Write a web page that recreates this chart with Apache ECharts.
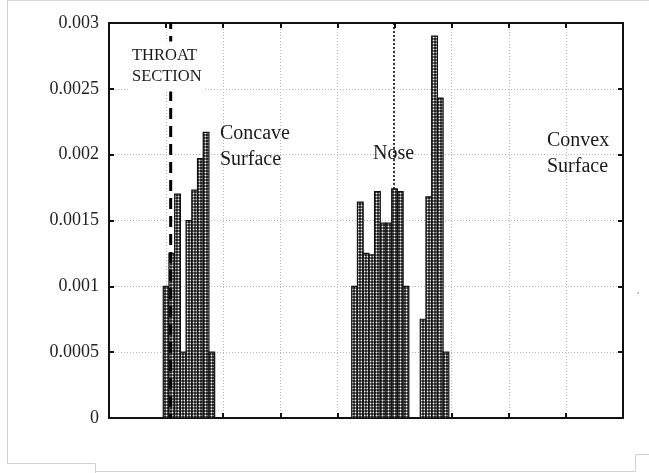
<!DOCTYPE html>
<html>
<head>
<meta charset="utf-8">
<script src="https://cdn.jsdelivr.net/npm/echarts@6/dist/echarts.min.js"></script>
<style>html,body{margin:0;padding:0;background:#fff}#c{width:649px;height:473px}</style>
</head>
<body>
<div id="c"></div>
<script>
// ---- data ----
const yTickLabels = ['0', '0.0005', '0.001', '0.0015', '0.002', '0.0025', '0.003'];
const concaveX = [1.0, 1.1, 1.2, 1.3, 1.4, 1.5, 1.6, 1.7, 1.8];
const concaveY = [0.001, 0.00125, 0.0017, 0.0005, 0.0015, 0.00173, 0.00197, 0.00217, 0.0005];
const noseX = [4.3, 4.4, 4.5, 4.6, 4.7, 4.8, 4.9, 5.0, 5.1, 5.2];
const noseY = [0.001, 0.00164, 0.00125, 0.00124, 0.00172, 0.00148, 0.00148, 0.00174, 0.00172, 0.001];
const convexX = [5.5, 5.6, 5.7, 5.8, 5.9];
const convexY = [0.00075, 0.00168, 0.0029, 0.00243, 0.0005];
const throatLineX = 1.08;
const noseLineX = 4.99;
const yMax = 0.003;
const xMax = 9;

// ---- styling ----
const BAR_W = 0.1;
const tile = document.createElement('canvas');
tile.width = 3; tile.height = 3;
const tctx = tile.getContext('2d');
tctx.fillStyle = '#262626'; tctx.fillRect(0, 0, 3, 3);
tctx.fillStyle = '#777777';
tctx.fillRect(1, 0, 1, 1); tctx.fillRect(0, 1, 1, 1); tctx.fillRect(2, 1, 1, 1); tctx.fillRect(1, 2, 1, 1);
tctx.fillStyle = '#f2f2f2'; tctx.fillRect(1, 1, 1, 1);
const pattern = { image: tile, repeat: 'repeat' };

function zipXY(xs, ys) { return xs.map((x, i) => [x, ys[i]]); }
function renderBar(params, api) {
  const x = api.value(0), y = api.value(1);
  const p0 = api.coord([x - BAR_W / 2, y]);
  const p1 = api.coord([x + BAR_W / 2, 0]);
  return {
    type: 'rect',
    shape: { x: p0[0], y: p0[1], width: p1[0] - p0[0], height: p1[1] - p0[1] },
    style: { fill: pattern, stroke: '#111', lineWidth: 1.2 }
  };
}
const barSeries = (xs, ys) => ({
  type: 'custom', renderItem: renderBar, data: zipXY(xs, ys),
  encode: { x: 0, y: 1 }, z: 3, xAxisIndex: 0, yAxisIndex: 0
});

const serif = '"Liberation Serif", "DejaVu Serif", serif';
const axisCommon = {
  axisLine: { show: true, onZero: false, lineStyle: { color: '#111', width: 2 } },
  axisTick: { show: true, inside: false, length: -5, lineStyle: { color: '#111', width: 2 } }
};

const chart = echarts.init(document.getElementById('c'));
chart.setOption({
  animation: false,
  backgroundColor: '#fff',
  grid: { left: 109, right: 26, top: 23, bottom: 55 },
  xAxis: [
    Object.assign({ type: 'value', min: 0, max: xMax, interval: 1, position: 'bottom',
      axisLabel: { show: false },
      splitLine: { show: true, lineStyle: { color: '#b8b8b8', type: [1, 2], width: 1 } } }, axisCommon),
    Object.assign({ type: 'value', min: 0, max: xMax, interval: 1, position: 'top',
      axisLabel: { show: false }, splitLine: { show: false } }, axisCommon)
  ],
  yAxis: [
    Object.assign({ type: 'value', min: 0, max: yMax, interval: 0.0005, position: 'left',
      axisLabel: { show: true, margin: 10, color: '#222', fontSize: 18, fontFamily: serif,
        formatter: v => yTickLabels[Math.round(v / 0.0005)] },
      splitLine: { show: true, lineStyle: { color: '#b8b8b8', type: [1, 2], width: 1 } } }, axisCommon),
    Object.assign({ type: 'value', min: 0, max: yMax, interval: 0.0005, position: 'right',
      axisLabel: { show: false }, splitLine: { show: false } }, axisCommon)
  ],
  series: [
    {
      type: 'line', data: [[noseLineX, yMax], [noseLineX, 0]], symbol: 'none', z: 1,
      lineStyle: { color: '#000', width: 1.5, type: [2, 2] }, silent: true
    },
    barSeries(concaveX, concaveY),
    barSeries(noseX, noseY),
    barSeries(convexX, convexY),
    {
      type: 'line', data: [[throatLineX, yMax], [throatLineX, 0]], symbol: 'none', z: 4,
      lineStyle: { color: '#000', width: 3, type: [11, 7], dashOffset: 5 }, silent: true
    }
  ],
  graphic: [
    { type: 'text', z: 100, style: { text: 'THROAT\nSECTION', x: 130, y: 66.5, verticalAlign: 'middle',
        font: '16.5px ' + serif, fill: '#1a1a1a', lineHeight: 21, backgroundColor: '#fff', padding: [4, 2] } },
    { type: 'text', z: 100, style: { text: 'Concave\nSurface', x: 220, y: 147, verticalAlign: 'middle',
        font: '20px ' + serif, fill: '#1a1a1a', lineHeight: 26 } },
    { type: 'text', z: 100, style: { text: 'Nose', x: 373, y: 154, verticalAlign: 'middle',
        font: '20px ' + serif, fill: '#1a1a1a' } },
    { type: 'text', z: 100, style: { text: 'Convex\nSurface', x: 547, y: 154, verticalAlign: 'middle',
        font: '20px ' + serif, fill: '#1a1a1a', lineHeight: 26 } },
    { type: 'polyline', z: 100, shape: { points: [[7, 0.5], [649, 0.5]] }, style: { stroke: '#d8d8d8', lineWidth: 1 } },
    { type: 'polyline', z: 100, shape: { points: [[7.5, 0], [7.5, 463.5], [95.5, 463.5], [95.5, 473]] }, style: { stroke: '#d0d0d0', lineWidth: 1, fill: null } },
    { type: 'polyline', z: 100, shape: { points: [[95.5, 471.5], [635.5, 471.5], [635.5, 454.5], [649, 454.5]] }, style: { stroke: '#d0d0d0', lineWidth: 1, fill: null } },
    { type: 'circle', z: 100, shape: { cx: 638, cy: 293, r: 0.8 }, style: { fill: '#777' } }
  ]
});
</script>
</body>
</html>
